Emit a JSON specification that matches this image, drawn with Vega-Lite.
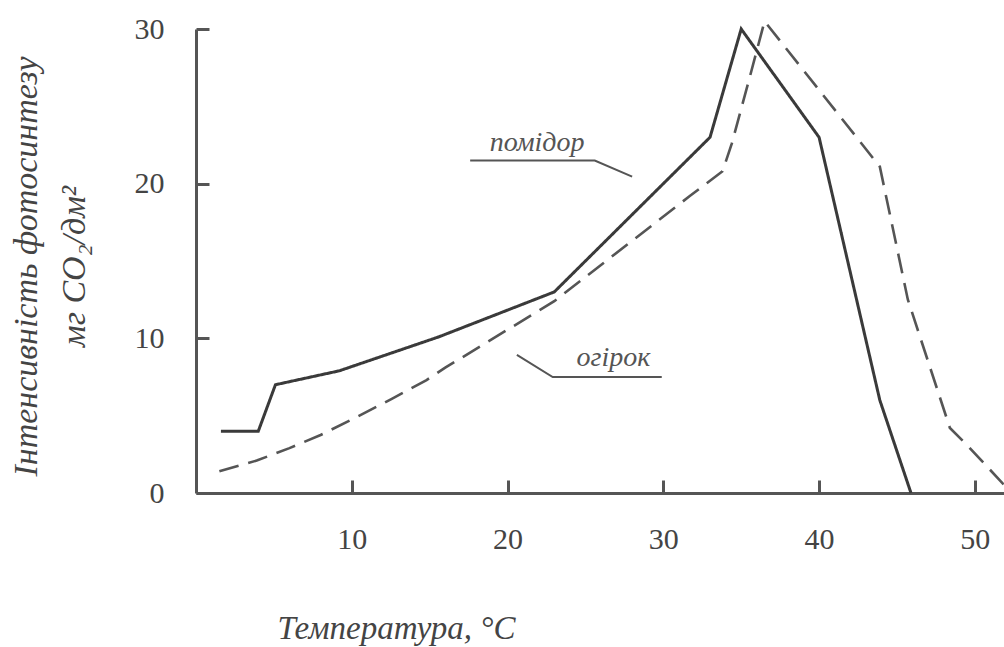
{
  "$schema": "https://vega.github.io/schema/vega-lite/v6.json",
  "autosize": {"type": "none"},
  "width": 810,
  "height": 464,
  "padding": {"left": 196, "top": 29, "right": 0, "bottom": 154},
  "background": "#ffffff",
  "config": {"view": {"stroke": null}},
  "datasets": {
    "curves": [
      {"crop": "помідор", "t": 1.6, "v": 4.0},
      {"crop": "помідор", "t": 4.0, "v": 4.0},
      {"crop": "помідор", "t": 5.1, "v": 7.0},
      {"crop": "помідор", "t": 9.2, "v": 7.9},
      {"crop": "помідор", "t": 15.6, "v": 10.1},
      {"crop": "помідор", "t": 23.0, "v": 13.0},
      {"crop": "помідор", "t": 33.0, "v": 23.0},
      {"crop": "помідор", "t": 35.0, "v": 30.0},
      {"crop": "помідор", "t": 40.0, "v": 23.0},
      {"crop": "помідор", "t": 43.9, "v": 6.0},
      {"crop": "помідор", "t": 45.9, "v": 0.0},
      {"crop": "огірок", "t": 1.5, "v": 1.4},
      {"crop": "огірок", "t": 3.9, "v": 2.1},
      {"crop": "огірок", "t": 6.0, "v": 2.9},
      {"crop": "огірок", "t": 8.0, "v": 3.75},
      {"crop": "огірок", "t": 10.3, "v": 4.9},
      {"crop": "огірок", "t": 12.6, "v": 6.1},
      {"crop": "огірок", "t": 14.8, "v": 7.3},
      {"crop": "огірок", "t": 16.0, "v": 8.1},
      {"crop": "огірок", "t": 23.0, "v": 12.4},
      {"crop": "огірок", "t": 31.7, "v": 19.2},
      {"crop": "огірок", "t": 33.8, "v": 20.8},
      {"crop": "огірок", "t": 34.4, "v": 22.6},
      {"crop": "огірок", "t": 35.5, "v": 26.7},
      {"crop": "огірок", "t": 36.5, "v": 30.5},
      {"crop": "огірок", "t": 43.9, "v": 21.1},
      {"crop": "огірок", "t": 45.7, "v": 12.5},
      {"crop": "огірок", "t": 48.4, "v": 4.2},
      {"crop": "огірок", "t": 49.5, "v": 3.1},
      {"crop": "огірок", "t": 51.9, "v": 0.5}
    ],
    "leaders": [
      {"crop": "помідор", "i": 1, "t": 17.6, "v": 21.5},
      {"crop": "помідор", "i": 2, "t": 25.6, "v": 21.5},
      {"crop": "помідор", "i": 3, "t": 28.0, "v": 20.45},
      {"crop": "огірок", "i": 1, "t": 20.6, "v": 8.93},
      {"crop": "огірок", "i": 2, "t": 22.9, "v": 7.5},
      {"crop": "огірок", "i": 3, "t": 29.9, "v": 7.5}
    ],
    "labels": [
      {"crop": "помідор", "t": 21.9, "v": 22.6},
      {"crop": "огірок", "t": 26.8, "v": 8.7}
    ]
  },
  "encoding": {
    "x": {
      "type": "quantitative",
      "scale": {"domain": [0, 52], "nice": false, "zero": false},
      "axis": {
        "values": [10, 20, 30, 40, 50],
        "grid": false,
        "domainColor": "#555555",
        "domainWidth": 3,
        "tickColor": "#555555",
        "tickWidth": 3,
        "tickSize": -13,
        "labelPadding": 44,
        "labelFont": "Liberation Serif",
        "labelFontSize": 30,
        "labelColor": "#444444",
        "title": "Температура, °C",
        "titleFont": "Liberation Serif",
        "titleFontStyle": "italic",
        "titleFontWeight": "normal",
        "titleFontSize": 33,
        "titleColor": "#444444",
        "titleX": 200,
        "titleY": 135,
        "titleAlign": "center",
        "titleBaseline": "middle"
      }
    },
    "y": {
      "type": "quantitative",
      "scale": {"domain": [0, 30], "nice": false, "zero": false},
      "axis": {
        "values": [0, 10, 20, 30],
        "grid": false,
        "domainColor": "#555555",
        "domainWidth": 3,
        "tickColor": "#555555",
        "tickWidth": 3,
        "tickSize": -13,
        "labelPadding": 45,
        "labelFont": "Liberation Serif",
        "labelFontSize": 30,
        "labelColor": "#444444",
        "title": ["Інтенсивність фотосинтезу", "мг CO₂/дм²"],
        "titleFont": "Liberation Serif",
        "titleFontStyle": "italic",
        "titleFontWeight": "normal",
        "titleFontSize": 34,
        "titleLineHeight": 48,
        "titleColor": "#444444",
        "titleX": -170,
        "titleY": 237,
        "titleAngle": -90,
        "titleAlign": "center",
        "titleBaseline": "middle"
      }
    }
  },
  "layer": [
    {
      "data": {"name": "curves"},
      "mark": {"type": "line", "clip": false, "strokeJoin": "miter", "strokeCap": "butt"},
      "encoding": {
        "x": {"field": "t", "type": "quantitative"},
        "y": {"field": "v", "type": "quantitative"},
        "detail": {"field": "crop"},
        "color": {"field": "crop", "type": "nominal", "scale": {"domain": ["помідор", "огірок"], "range": ["#3a3a3a", "#555555"]}, "legend": null},
        "strokeDash": {"field": "crop", "type": "nominal", "scale": {"domain": ["помідор", "огірок"], "range": [[1, 0], [20, 10]]}, "legend": null},
        "strokeWidth": {"field": "crop", "type": "nominal", "scale": {"domain": ["помідор", "огірок"], "range": [3, 2.6]}, "legend": null}
      }
    },
    {
      "data": {"name": "leaders"},
      "mark": {"type": "line", "color": "#555555", "strokeWidth": 2},
      "encoding": {
        "x": {"field": "t", "type": "quantitative"},
        "y": {"field": "v", "type": "quantitative"},
        "detail": {"field": "crop"},
        "order": {"field": "i"}
      }
    },
    {
      "data": {"name": "labels"},
      "mark": {"type": "text", "font": "Liberation Serif", "fontStyle": "italic", "fontSize": 28, "color": "#555555", "align": "center", "baseline": "middle"},
      "encoding": {
        "x": {"field": "t", "type": "quantitative"},
        "y": {"field": "v", "type": "quantitative"},
        "text": {"field": "crop"}
      }
    }
  ]
}
